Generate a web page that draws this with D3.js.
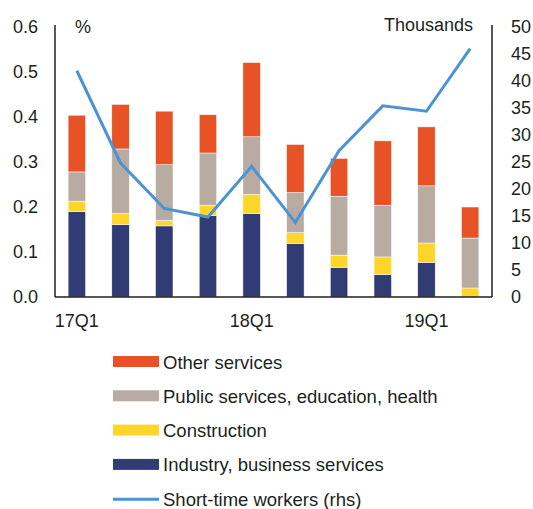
<!DOCTYPE html>
<meta charset="utf-8">
<style>
body{margin:0;background:#fff;}
text{font-family:"Liberation Sans",Arial,sans-serif;font-size:18px;fill:#231f20;}
.legend text{font-size:18.5px;}
.axis path{stroke:#231f20;stroke-width:1.5px;}
.axis line{display:none;}
.bars rect{stroke:#fff;stroke-width:0.5px;}
</style>
<body>
<script src="https://d3js.org/d3.v7.min.js"></script>
<script>

var quarters=["17Q1","17Q2","17Q3","17Q4","18Q1","18Q2","18Q3","18Q4","19Q1","19Q2"];
var industry    =[0.190,0.161,0.158,0.181,0.185,0.119,0.066,0.050,0.077,0.000];
var construction=[0.023,0.025,0.012,0.023,0.043,0.024,0.027,0.039,0.043,0.020];
var publicServ  =[0.065,0.143,0.124,0.116,0.128,0.089,0.131,0.115,0.127,0.111];
var otherServ   =[0.126,0.099,0.119,0.085,0.165,0.107,0.084,0.143,0.131,0.069];
var shortTime   =[41.9,24.8,16.4,14.8,24.2,13.8,27.1,35.4,34.4,46.0];
var xTickLabels =["17Q1","18Q1","19Q1"];

var keys=["industry","construction","publicServ","otherServ"];
var color={industry:"#323c74",construction:"#fed52a",publicServ:"#b8aba1",otherServ:"#e75227"};
var names={otherServ:"Other services",publicServ:"Public services, education, health",
	construction:"Construction",industry:"Industry, business services"};

var rows=quarters.map(function(q,i){
	return {q:q,industry:industry[i],construction:construction[i],publicServ:publicServ[i],otherServ:otherServ[i],st:shortTime[i]};
});

var svg=d3.select("body").append("svg").attr("width",533).attr("height",509);

var pLeft=55,pRight=492,pTop=27,pBottom=297;

var x=d3.scaleBand().domain(quarters).range([pLeft,pRight]).paddingInner(0.6).paddingOuter(0.3);
var y=d3.scaleLinear().domain([0,0.6]).range([pBottom,pTop]);
var y2=d3.scaleLinear().domain([0,50]).range([pBottom,pTop]);

var stack=d3.stack().keys(keys)(rows);

svg.append("g").attr("class","bars")
	.selectAll("g").data(stack).join("g")
	.attr("fill",d=>color[d.key])
	.selectAll("rect").data(d=>d).join("rect")
	.attr("x",d=>x(d.data.q))
	.attr("width",x.bandwidth())
	.attr("y",d=>y(d[1]))
	.attr("height",d=>y(d[0])-y(d[1]));

var line=d3.line().x(d=>x(d.q)+x.bandwidth()/2).y(d=>y2(d.st));
svg.append("path").datum(rows)
	.attr("fill","none").attr("stroke","#4b93d2").attr("stroke-width",3)
	.attr("d",line);

// axes
var yAxis=svg.append("g").attr("class","axis").attr("transform","translate("+pLeft+",0)")
	.call(d3.axisLeft(y).tickValues(d3.range(0,0.61,0.1)).tickFormat(d3.format(".1f")).tickSize(0).tickPadding(17));
yAxis.select(".domain").attr("d","M0,"+(pTop-2)+"V"+pBottom);
yAxis.selectAll("text").style("font-size","18px").attr("fill","#231f20");

var y2Axis=svg.append("g").attr("class","axis").attr("transform","translate("+pRight+",0)")
	.call(d3.axisRight(y2).tickValues(d3.range(0,51,5)).tickSize(0).tickPadding(19));
y2Axis.select(".domain").attr("d","M0,"+(pTop-2)+"V"+pBottom);
y2Axis.selectAll("text").style("font-size","18px").attr("fill","#231f20");

var xAxis=svg.append("g").attr("class","axis").attr("transform","translate(0,"+pBottom+")")
	.call(d3.axisBottom(x).tickValues(xTickLabels).tickSize(0).tickPadding(17));
xAxis.select(".domain").attr("d","M"+pLeft+",0H"+pRight);
xAxis.selectAll("text").style("font-size","18px").attr("fill","#231f20");

svg.append("text").attr("x",75).attr("y",33).text("%");
svg.append("text").attr("x",473).attr("y",31).attr("text-anchor","end").text("Thousands");

// legend
var legendKeys=["otherServ","publicServ","construction","industry"];
var lg=svg.append("g").attr("class","legend").attr("transform","translate(113,0)");
legendKeys.forEach(function(k,i){
	var cy=362+i*34.3;
	lg.append("rect").attr("x",0).attr("y",cy-6).attr("width",46).attr("height",11).attr("fill",color[k]);
	lg.append("text").attr("x",50).attr("y",cy+6.5).text(names[k]);
});
var cyl=362+4*34.3;
lg.append("line").attr("x1",0).attr("x2",46).attr("y1",cyl).attr("y2",cyl)
	.attr("stroke","#4b93d2").attr("stroke-width",3);
lg.append("text").attr("x",50).attr("y",cyl+6.5).text("Short-time workers (rhs)");

</script>
</body>
